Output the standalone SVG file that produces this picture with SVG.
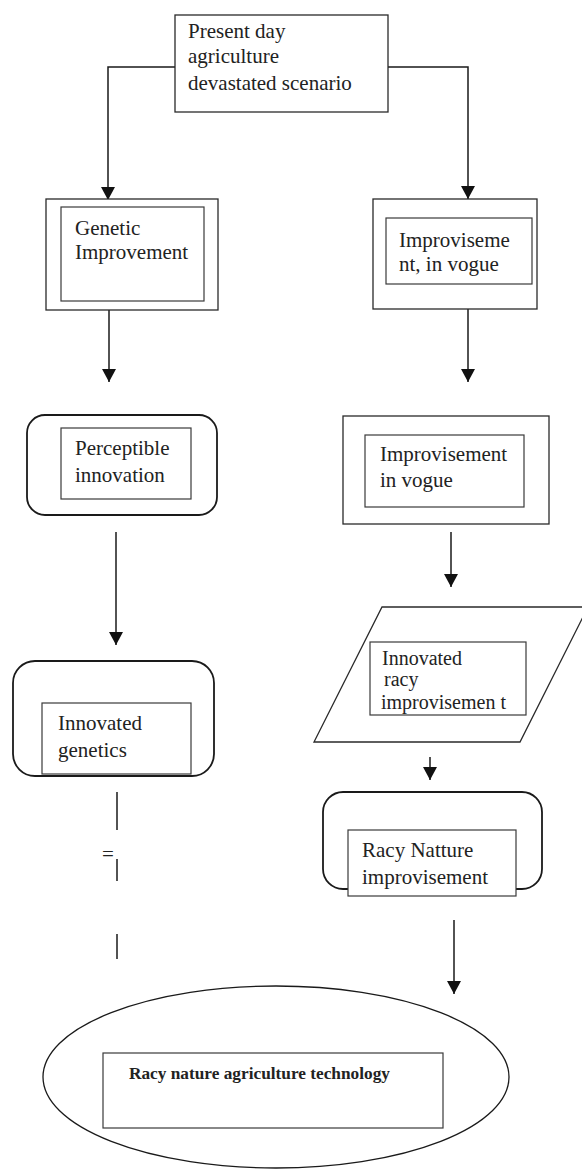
<svg xmlns="http://www.w3.org/2000/svg" width="582" height="1170" viewBox="0 0 582 1170">
<style>
.box{fill:#fff;stroke:#2a2a2a;stroke-width:1.3}
.rbox{fill:#fff;stroke:#1a1a1a;stroke-width:1.8}
.inner{fill:#fff;stroke:#3a3a3a;stroke-width:1.2}
.t{font-family:"Liberation Serif","Times New Roman",serif;font-size:21px;fill:#222}
.ts{font-family:"Liberation Serif","Times New Roman",serif;font-size:20px;fill:#222}
.tb{font-family:"Liberation Serif","Times New Roman",serif;font-size:17.3px;font-weight:bold;fill:#222}
.c{fill:none;stroke:#1a1a1a;stroke-width:1.5}
</style>
<defs>
<marker id="arr" markerUnits="userSpaceOnUse" markerWidth="15" markerHeight="15" refX="13" refY="7" orient="auto">
<path d="M0,0 L13,7 L0,14 z" fill="#111"/>
</marker>
</defs>
<rect width="582" height="1170" fill="#fff"/>

<g id="connectors">
<polyline class="c" points="175,67 108,67 108,200" marker-end="url(#arr)"/>
<polyline class="c" points="388,67 468,67 468,199" marker-end="url(#arr)"/>
<line class="c" x1="109" y1="310" x2="109" y2="382" marker-end="url(#arr)"/>
<line class="c" x1="468" y1="309" x2="468" y2="382" marker-end="url(#arr)"/>
<line class="c" x1="116" y1="532" x2="116" y2="645" marker-end="url(#arr)"/>
<line class="c" x1="451" y1="532" x2="451" y2="587" marker-end="url(#arr)"/>
<line class="c" x1="430" y1="757" x2="430" y2="780" marker-end="url(#arr)"/>
<line class="c" x1="454" y1="920" x2="454" y2="994" marker-end="url(#arr)"/>
<line class="c" x1="117" y1="792" x2="117" y2="830"/>
<line class="c" x1="117" y1="859" x2="117" y2="881"/>
<line class="c" x1="117" y1="934" x2="117" y2="959"/>
</g>
<g id="mark-eq">
<text class="t" x="102" y="861" font-size="20">=</text>
</g>

<g id="n-top">
<rect class="box" x="175" y="15" width="213" height="97"/>
<text class="t" x="188" y="38">Present day</text>
<text class="t" x="188" y="63">agriculture</text>
<text class="t" x="188" y="90">devastated scenario</text>
</g>

<g id="n-genetic">
<rect class="box" x="46" y="199" width="172" height="111"/>
<rect class="inner" x="61" y="207" width="143" height="94"/>
<text class="t" x="75" y="235">Genetic</text>
<text class="t" x="75" y="259">Improvement</text>
</g>

<g id="n-improv1">
<rect class="box" x="373" y="199" width="164" height="110"/>
<rect class="inner" x="386" y="218" width="146" height="66"/>
<text class="t" x="399" y="247">Improviseme</text>
<text class="t" x="399" y="271">nt, in vogue</text>
</g>

<g id="n-perceptible">
<rect class="rbox" x="27" y="415" width="190" height="100" rx="18"/>
<rect class="inner" x="61" y="428" width="130" height="71"/>
<text class="t" x="75" y="455">Perceptible</text>
<text class="t" x="75" y="482">innovation</text>
</g>

<g id="n-improv2">
<rect class="box" x="343" y="416" width="206" height="108"/>
<rect class="inner" x="365" y="435" width="159" height="72"/>
<text class="t" x="380" y="461">Improvisement</text>
<text class="t" x="380" y="487">in vogue</text>
</g>

<g id="n-innov-genetics">
<rect class="rbox" x="13" y="661" width="201" height="115" rx="22"/>
<rect class="inner" x="42" y="703" width="149" height="71"/>
<text class="t" x="58" y="730">Innovated</text>
<text class="t" x="58" y="757">genetics</text>
</g>

<g id="n-innov-racy">
<polygon class="box" points="382,607 588,607 520,742 314,742"/>
<rect class="inner" x="370" y="642" width="156" height="73"/>
<text class="ts" x="382" y="665">Innovated</text>
<text class="ts" x="384" y="686">racy</text>
<text class="ts" x="381" y="709">improvisemen t</text>
</g>

<g id="n-racy-nature">
<rect class="rbox" x="323" y="792" width="219" height="97" rx="20"/>
<rect class="inner" x="348" y="830" width="168" height="66"/>
<text class="t" x="362" y="857">Racy Natture</text>
<text class="t" x="362" y="884">improvisement</text>
</g>

<g id="n-final">
<ellipse cx="276" cy="1077" rx="233" ry="91" fill="#fff" stroke="#1a1a1a" stroke-width="1.3"/>
<rect class="inner" x="103" y="1053" width="340" height="75"/>
<text class="tb" x="129" y="1079">Racy nature agriculture technology</text>
</g>
</svg>
